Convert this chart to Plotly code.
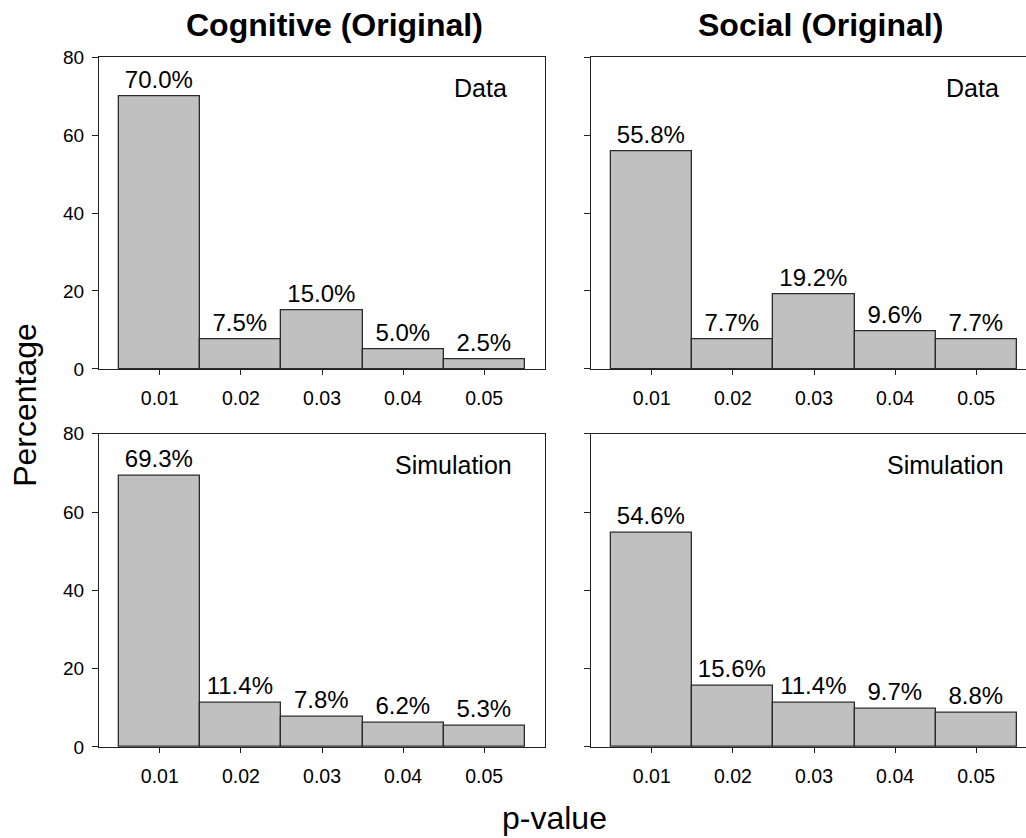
import plotly.graph_objects as go

# p-value bins and percentage of results in each bin
p_bins = ["0.01", "0.02", "0.03", "0.04", "0.05"]
cognitive_data = [70.0, 7.5, 15.0, 5.0, 2.5]
social_data = [55.8, 7.7, 19.2, 9.6, 7.7]
cognitive_sim = [69.3, 11.4, 7.8, 6.2, 5.3]
social_sim = [54.6, 15.6, 11.4, 9.7, 8.8]

column_titles = ["Cognitive (Original)", "Social (Original)"]
row_labels = ["Data", "Simulation"]
y_ticks = [0, 20, 40, 60, 80]

W, H = 1026, 838
FONT = "Liberation Sans, Arial, sans-serif"

# the page is shown slightly squeezed vertically; map screen rows to figure rows
Y_SCALE, Y_OFF = 0.976, 9.7


def fy(px):
    """paper fraction for a screen row"""
    return 1 - ((px - Y_OFF) / Y_SCALE) / H


# panel boxes in screen pixels: (x0, x1) and (ytop, ybottom)
left_x = (99, 545)
right_x = (591, 1026)
top_y = (57, 369)
bot_y = (434, 747.5)
unit_px = (left_x[1] - left_x[0]) / 5.5  # width of one bin in pixels

fig = go.Figure()

panels = [
    (cognitive_data, left_x, top_y, True, row_labels[0]),
    (social_data, right_x, top_y, False, row_labels[0]),
    (cognitive_sim, left_x, bot_y, True, row_labels[1]),
    (social_sim, right_x, bot_y, False, row_labels[1]),
]

positions = list(range(1, len(p_bins) + 1))

for i, (vals, xr, yr, is_left, tag) in enumerate(panels, start=1):
    xa = "x" if i == 1 else f"x{i}"
    ya = "y" if i == 1 else f"y{i}"
    fig.add_trace(go.Bar(
        x=positions, y=vals, width=1.0,
        marker=dict(color="#C0C0C0", line=dict(color="#2b2b2b", width=1.3)),
        text=[f"{v:.1f}%" for v in vals],
        textposition="outside",
        textfont=dict(family=FONT, size=24, color="black"),
        constraintext="none",
        cliponaxis=False,
        xaxis=xa, yaxis=ya, showlegend=False,
        hoverinfo="skip",
    ))

    x_hi = 0.25 + (xr[1] - xr[0]) / unit_px
    xkey = "xaxis" if i == 1 else f"xaxis{i}"
    ykey = "yaxis" if i == 1 else f"yaxis{i}"
    fig.layout[xkey] = dict(
        domain=[xr[0] / W, xr[1] / W],
        range=[0.25, x_hi],
        anchor=ya,
        tickmode="array", tickvals=positions, ticktext=p_bins,
        ticks="outside", ticklen=5, tickwidth=1, tickcolor="#222",
        showline=True, linecolor="#222", linewidth=1, mirror=True,
        showgrid=False, zeroline=False, fixedrange=True,
        tickfont=dict(family=FONT, size=19.5, color="black"),
        ticklabelstandoff=7,
    )
    fig.layout[ykey] = dict(
        domain=[fy(yr[1]), fy(yr[0])],
        range=[0, 80],
        anchor=xa,
        tickvals=y_ticks,
        ticks="outside", ticklen=6, tickwidth=1, tickcolor="#222",
        showline=True, linecolor="#222", linewidth=1, mirror=is_left,
        showgrid=False, zeroline=False, fixedrange=True,
        showticklabels=is_left,
        tickfont=dict(family=FONT, size=19, color="black"),
        ticklabelstandoff=4,
    )
    fig.add_annotation(
        x=4.95 if tag == "Data" else 4.62, y=72, xref=xa, yref=ya,
        text=tag, showarrow=False, xanchor="center", yanchor="middle",
        font=dict(family=FONT, size=25, color="black"),
    )

# column titles
for title, cx in zip(column_titles, [334, 820]):
    fig.add_annotation(
        x=cx / W, y=fy(25), xref="paper", yref="paper",
        text=f"<b>{title}</b>", showarrow=False,
        xanchor="center", yanchor="middle",
        font=dict(family=FONT, size=32, color="black"),
    )

# shared axis titles
fig.add_annotation(
    x=25 / W, y=fy(405), xref="paper", yref="paper",
    text="Percentage", textangle=-90, showarrow=False,
    xanchor="center", yanchor="middle",
    font=dict(family=FONT, size=32, color="black"),
)
fig.add_annotation(
    x=554 / W, y=fy(819), xref="paper", yref="paper",
    text="p-value", showarrow=False,
    xanchor="center", yanchor="middle",
    font=dict(family=FONT, size=32, color="black"),
)

fig.update_layout(
    width=W, height=H,
    margin=dict(l=0, r=0, t=0, b=0),
    paper_bgcolor="white", plot_bgcolor="white",
    bargap=0,
)

fig.write_html("out.html")
